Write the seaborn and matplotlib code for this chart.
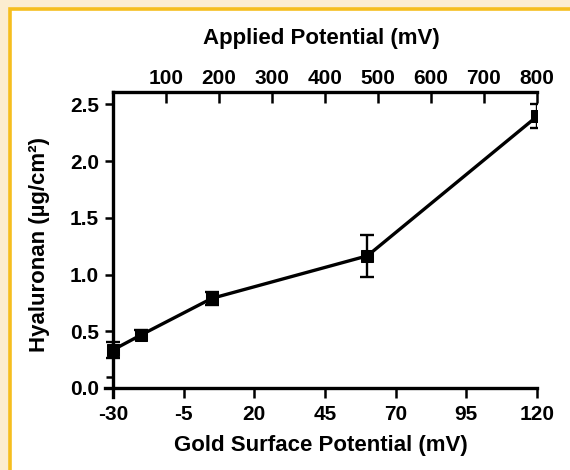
import matplotlib
matplotlib.use("Agg")
import matplotlib.pyplot as plt
import seaborn as sns
import pandas as pd
import numpy as np
from matplotlib.patches import Rectangle

# ---- data ----
gold_potential = [-30, -20, 5, 60, 120]          # mV
hyaluronan = [0.335, 0.468, 0.79, 1.165, 2.395]   # ug/cm2
hyaluronan_err = [0.07, 0.04, 0.06, 0.185, 0.105]
top_ticks = [100, 200, 300, 400, 500, 600, 700, 800]
bottom_ticks = [-30, -5, 20, 45, 70, 95, 120]
y_ticks = [0.0, 0.5, 1.0, 1.5, 2.0, 2.5]

df = pd.DataFrame({"gold": gold_potential, "ha": hyaluronan, "err": hyaluronan_err})

sns.set_style("ticks")
plt.rcParams['font.family'] = ['Liberation Sans', 'DejaVu Sans']
plt.rcParams['font.weight'] = 'bold'
plt.rcParams['text.color'] = 'black'
plt.rcParams['axes.labelcolor'] = 'black'

W, H = 570, 470
fig = plt.figure(figsize=(W / 100, H / 100), dpi=100)
fig.patch.set_facecolor("#FCEDD0")
fig.patches.append(Rectangle((9.5 / W, -0.2), 1.5, (H - 8.5) / H + 0.2,
                             transform=fig.transFigure, facecolor="white",
                             edgecolor="#F6BE1E", linewidth=2.6, zorder=-10))

ax = fig.add_axes([105 / W, 1 - 397 / H, 432 / W, 305 / H])
ax.set_facecolor("none")

black = "black"
sns.lineplot(data=df, x="gold", y="ha", ax=ax, color=black, linewidth=2.4,
             marker="s", markersize=8.5, markeredgecolor=black, markerfacecolor=black,
             errorbar=None, zorder=3)
ax.errorbar(df["gold"], df["ha"], yerr=df["err"], fmt="none", ecolor=black,
            elinewidth=1.7, capsize=5, capthick=1.7, zorder=3)

ax.set_xlim(-32.8, 120)
ax.set_ylim(-0.08, 2.61)

ax.spines['right'].set_visible(False)
ax.spines['top'].set_visible(False)
ax.spines['left'].set_position(('data', -30))
ax.spines['bottom'].set_position(('data', 0))
for s in ['left', 'bottom']:
    ax.spines[s].set_linewidth(2.4)
    ax.spines[s].set_color(black)

ax.set_xticks(bottom_ticks)
ax.set_xticklabels([str(t) for t in bottom_ticks])
ax.set_yticks(y_ticks)
ax.set_yticklabels([f"{t:.1f}" for t in y_ticks])
ax.set_yticks([0.1], minor=True)
ax.tick_params(axis='both', which='major', direction='out', width=1.8,
               labelsize=15, color=black, labelcolor=black)
ax.tick_params(axis='x', length=7, pad=5)
ax.tick_params(axis='y', length=6, pad=4)
ax.tick_params(axis='y', which='minor', direction='out', length=5, width=1.8, color=black)

ax.set_xlabel("Gold Surface Potential (mV)", fontsize=16, fontweight='bold',
              labelpad=8, color=black)
ax.set_ylabel("Hyaluronan (µg/cm²)", fontsize=16, fontweight='bold',
              labelpad=14, color=black)

def g2a(g):
    return (np.asarray(g) + 30) * 16.0 / 3.0

def a2g(a):
    return np.asarray(a) * 3.0 / 16.0 - 30

sec = ax.secondary_xaxis('top', functions=(g2a, a2g))
sec.set_xticks(top_ticks)
sec.set_xticklabels([str(t) for t in top_ticks])
sec.tick_params(direction='in', length=8, width=1.8, labelsize=15, pad=3,
                color=black, labelcolor=black)
sec.spines['top'].set_linewidth(2.4)
sec.spines['top'].set_color(black)
sec.spines['top'].set_bounds(0, 800)
sec.set_xlabel("Applied Potential (mV)", fontsize=16, fontweight='bold',
               labelpad=18, color=black)

fig.savefig("out.png", dpi=100, facecolor=fig.get_facecolor())
